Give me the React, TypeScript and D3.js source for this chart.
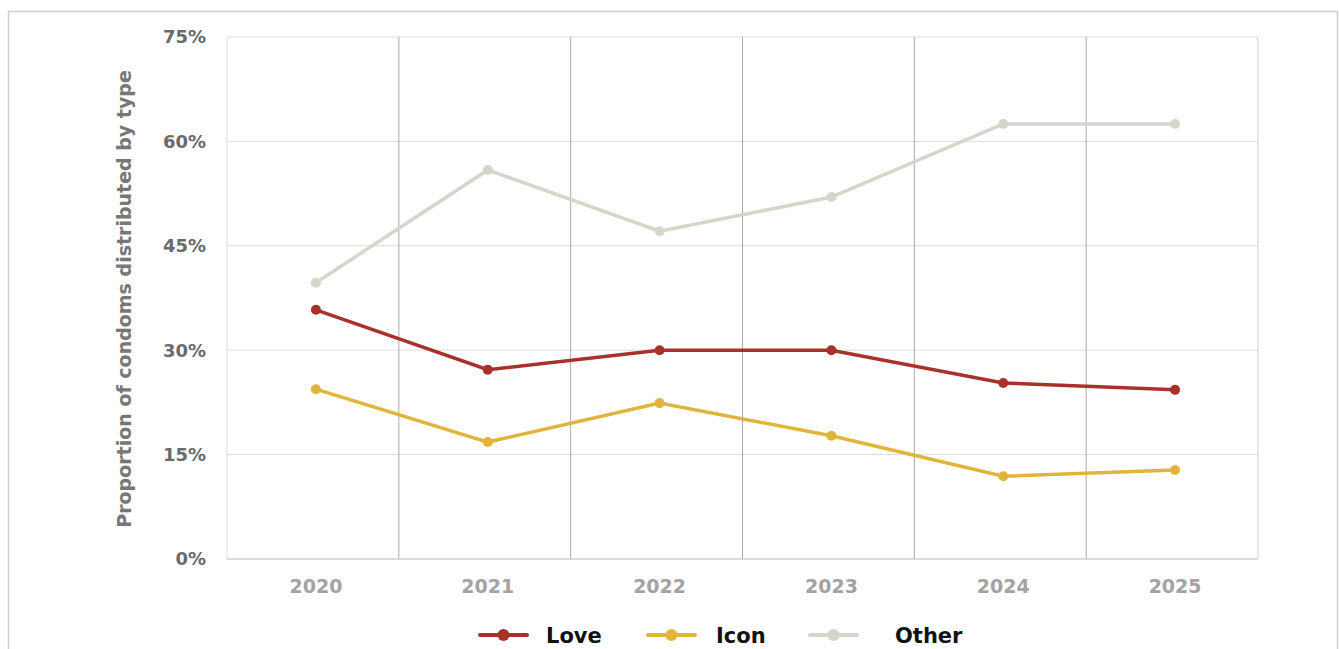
import React from "react";
import * as d3 from "d3";

const years = ["2020", "2021", "2022", "2023", "2024", "2025"];
const loveValues = [35.8, 27.2, 30.0, 30.0, 25.3, 24.3];
const iconValues = [24.4, 16.8, 22.4, 17.7, 11.9, 12.8];
const otherValues = [39.7, 55.9, 47.1, 52.0, 62.5, 62.5];
const yTicks = [0, 15, 30, 45, 60, 75];
const seriesNames = ["Love", "Icon", "Other"];
const seriesColors = ["#a8322a", "#e1b43c", "#d7d4ca"];

const W = 1340;
const H = 649;
const m = { left: 227, right: 1258, top: 37, bottom: 559 };

export default function App() {
  const x = d3.scaleBand<string>().domain(years).range([m.left, m.right]).padding(0);
  const y = d3.scaleLinear().domain([0, 75]).range([m.bottom, m.top]);
  const cx = (yr: string) => (x(yr) as number) + x.bandwidth() / 2 + 3;
  const series = [loveValues, iconValues, otherValues];
  const line = d3
    .line<number>()
    .x((_, i) => cx(years[i]))
    .y((d) => y(d));
  const font = "'DejaVu Sans', sans-serif";
  const legendX = [480, 648, 810];
  const legendTextX = [546, 716, 895];
  const ly = 635;

  return (
    <svg
      width={W}
      height={H}
      style={{ position: "absolute", left: 0, top: 0, background: "#fff" }}
      fontFamily={font}
    >
      <rect x={8.5} y={11.5} width={1329} height={660} fill="#fff" stroke="#c9cdd5" strokeWidth={1.5} />
      {/* horizontal grid */}
      {yTicks.map((t) => (
        <line key={t} x1={m.left} x2={m.right} y1={y(t)} y2={y(t)} stroke="#dcdcdc" strokeWidth={1} />
      ))}
      {/* vertical grid at band boundaries */}
      {years.slice(1).map((yr) => (
        <line key={yr} x1={x(yr)} x2={x(yr)} y1={m.top} y2={m.bottom} stroke="#a9a9a9" strokeWidth={1} />
      ))}
      <line x1={m.left} x2={m.left} y1={m.top} y2={m.bottom} stroke="#dcdcdc" />
      <line x1={m.right} x2={m.right} y1={m.top} y2={m.bottom} stroke="#d0d0d0" />
      <line x1={m.left} x2={m.right} y1={m.bottom} y2={m.bottom} stroke="#c8c8c8" />
      {/* y tick labels */}
      {yTicks.map((t) => (
        <text key={t} x={206} y={y(t)} dy="0.35em" textAnchor="end" fontSize={18} fontWeight={700} fill="#6a6a6a">
          {t + "%"}
        </text>
      ))}
      {/* x tick labels */}
      {years.map((yr) => (
        <text key={yr} x={cx(yr)} y={593} textAnchor="middle" fontSize={19} fontWeight={700} fill="#a3a3a3">
          {yr}
        </text>
      ))}
      <text
        transform={`translate(131, 299) rotate(-90)`}
        textAnchor="middle"
        fontSize={19}
        fontWeight={700}
        fill="#777"
      >
        Proportion of condoms distributed by type
      </text>
      {/* series */}
      {series.map((vals, si) => (
        <g key={si}>
          <path d={line(vals) || ""} fill="none" stroke={seriesColors[si]} strokeWidth={3.5} />
          {vals.map((v, i) => (
            <circle key={i} cx={cx(years[i])} cy={y(v)} r={5} fill={seriesColors[si]} />
          ))}
        </g>
      ))}
      {/* legend */}
      {seriesNames.map((n, i) => (
        <g key={n}>
          <line x1={legendX[i]} x2={legendX[i] + 47} y1={ly} y2={ly} stroke={seriesColors[i]} strokeWidth={4} strokeLinecap="round" />
          <circle cx={legendX[i] + 23.5} cy={ly} r={6} fill={seriesColors[i]} />
          <text x={legendTextX[i]} y={ly} dy="0.36em" fontSize={21} fontWeight={700} fill="#111">
            {n}
          </text>
        </g>
      ))}
    </svg>
  );
}
